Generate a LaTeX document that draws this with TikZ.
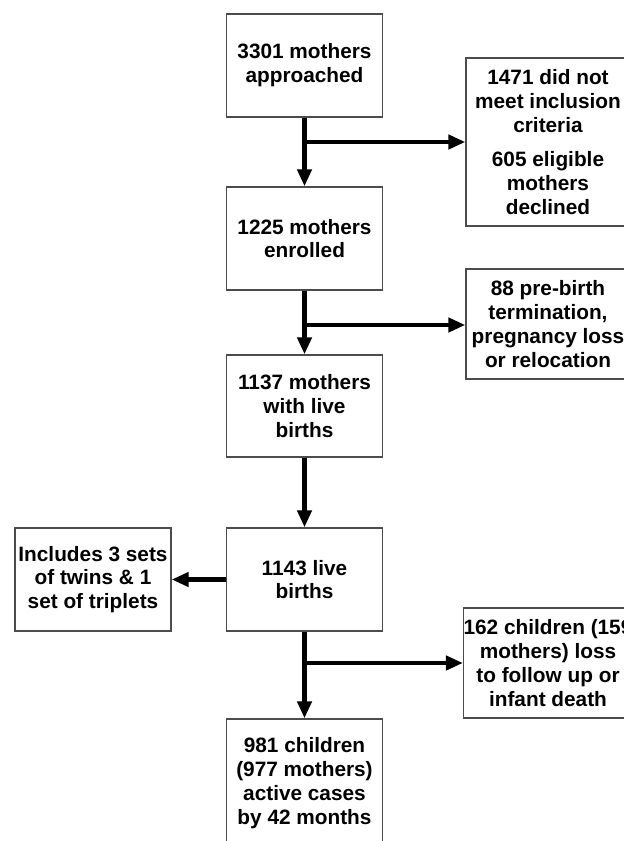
\documentclass[tikz,border=0pt]{standalone}
\usepackage{fontspec}
\setmainfont{Liberation Sans}
\usetikzlibrary{arrows.meta,calc}
\tikzset{
  box/.style={draw=black!70, line width=1.3pt, align=center, inner sep=0pt,
    font=\fontsize{20.8}{23.8}\selectfont\bfseries, text=black},
  arr/.style={line width=4.5pt, -{Triangle[length=17pt,width=14pt]}},
}
\begin{document}
\begin{tikzpicture}[x=1pt,y=-1pt]
\useasboundingbox (0,0) rectangle (624,841);
\node[box, minimum width=156pt, minimum height=103pt] (b1) at (304.5,65.5) {3301 mothers\\approached};
\node[box, minimum width=164pt, minimum height=168pt] (r1) at (548,142) {1471 did not\\meet inclusion\\criteria\\[11pt]605 eligible\\mothers\\declined};
\node[box, minimum width=156pt, minimum height=103pt] (b2) at (304.5,238.5) {1225 mothers\\enrolled};
\node[box, minimum width=164pt, minimum height=110pt] (r2) at (548,324) {88 pre-birth\\termination,\\pregnancy loss\\or relocation};
\node[box, minimum width=156pt, minimum height=102pt] (b3) at (304.5,406) {1137 mothers\\with live\\births};
\node[box, minimum width=156pt, minimum height=103pt] (b4) at (304.5,579.5) {1143 live\\births};
\node[box, minimum width=156pt, minimum height=103pt] (l4) at (93,579.5) {Includes 3 sets\\of twins \& 1\\set of triplets};
\node[box, minimum width=166pt, minimum height=110pt] (r3) at (548,663) {162 children (159\\mothers) loss\\to follow up or\\infant death};
\node[box, minimum width=156pt, minimum height=128pt] (b5) at (304.5,783) {981 children\\(977 mothers)\\active cases\\by 42 months};
\coordinate (j1) at (304.5,142);
\coordinate (j2) at (304.5,325);
\coordinate (j3) at (304.5,663);
\draw[arr] (b1.south) -- (b2.north);
\draw[arr] (j1) -- (j1 -| r1.west);
\draw[arr] (b2.south) -- (b3.north);
\draw[arr] (j2) -- (j2 -| r2.west);
\draw[arr] (b3.south) -- (b4.north);
\draw[arr] (b4.west) -- (l4.east);
\draw[arr] (b4.south) -- (b5.north);
\draw[arr] (j3) -- (j3 -| r3.west);
\end{tikzpicture}
\end{document}
